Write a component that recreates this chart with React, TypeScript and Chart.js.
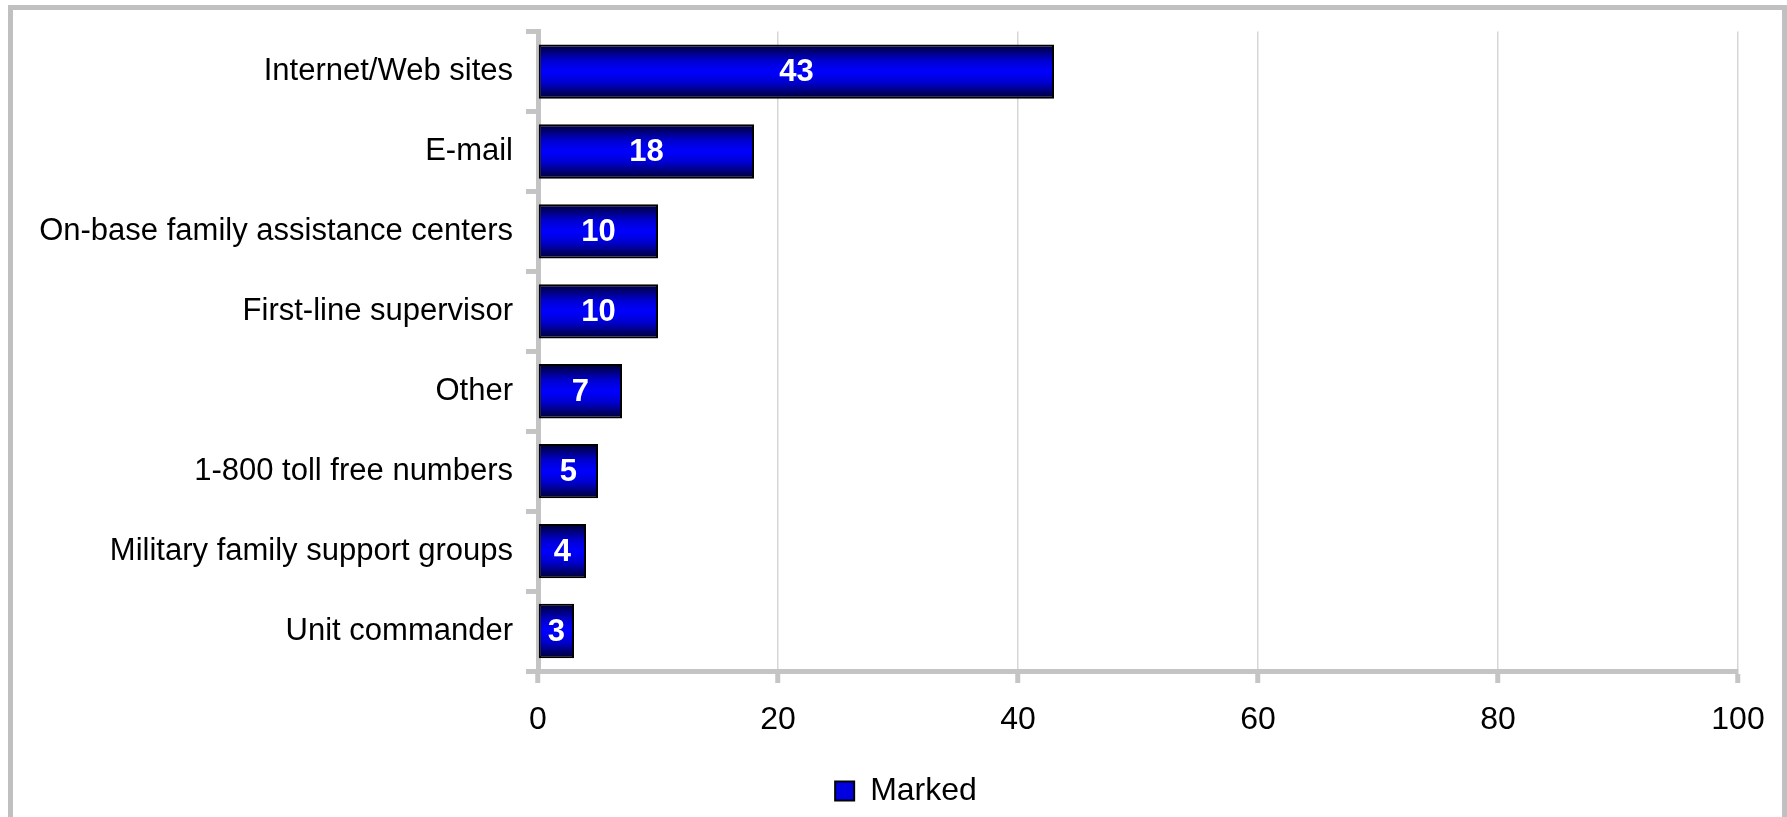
import React, { useEffect, useRef } from "react";
import { Chart, registerables } from "chart.js";

Chart.register(...registerables);

const categories = [
  "Internet/Web sites",
  "E-mail",
  "On-base family assistance centers",
  "First-line supervisor",
  "Other",
  "1-800 toll free numbers",
  "Military family support groups",
  "Unit commander",
];
const marked = [43, 18, 10, 10, 7, 5, 4, 3];
const xTicks = [0, 20, 40, 60, 80, 100];
const seriesName = "Marked";

const W = 1787;
const H = 817;
const FONT = "'Liberation Sans', Arial, sans-serif";
const CAT_PCT = 0.68;
const LEGEND_SHIFT = 37;

export default function App() {
  const ref = useRef<HTMLCanvasElement | null>(null);

  useEffect(() => {
    if (!ref.current) return;

    const labelPlugin = {
      id: "barLabels",
      afterDatasetsDraw(chart: any) {
        const { ctx } = chart;
        const meta = chart.getDatasetMeta(0);
        ctx.save();
        ctx.fillStyle = "#ffffff";
        ctx.font = `bold 31px ${FONT}`;
        ctx.textAlign = "center";
        ctx.textBaseline = "middle";
        meta.data.forEach((bar: any, i: number) => {
          const x = (bar.x + bar.base) / 2;
          ctx.fillText(String(chart.data.datasets[0].data[i]), x, bar.y + 1);
        });
        ctx.restore();
      },
    };

    const legendShift = {
      id: "legendShift",
      afterLayout(chart: any) {
        if (chart.legend) {
          chart.legend.left += LEGEND_SHIFT;
          chart.legend.right += LEGEND_SHIFT;
        }
      },
    };

    const gradientFill = (c: any) => {
      const chart = c.chart;
      const y = chart.scales && chart.scales.y;
      if (!y || !chart.chartArea || c.dataIndex === undefined) return "#0000ff";
      const cy = y.getPixelForValue(c.dataIndex);
      const half = (y.height / categories.length) * CAT_PCT / 2;
      const g = chart.ctx.createLinearGradient(0, cy - half, 0, cy + half);
      g.addColorStop(0, "#000030");
      g.addColorStop(0.3, "#0000d0");
      g.addColorStop(0.5, "#0000ff");
      g.addColorStop(0.7, "#0000d0");
      g.addColorStop(1, "#000030");
      return g;
    };

    const chart = new Chart(ref.current, {
      type: "bar",
      data: {
        labels: categories,
        datasets: [
          {
            label: seriesName,
            data: marked,
            backgroundColor: gradientFill,
            borderColor: "#000000",
            borderWidth: 2,
            borderSkipped: false,
            categoryPercentage: CAT_PCT,
            barPercentage: 1,
          },
        ],
      },
      options: {
        indexAxis: "y",
        responsive: false,
        animation: false,
        devicePixelRatio: 1,
        layout: { padding: { top: 23, right: 49, left: 0, bottom: 0 } },
        plugins: {
          tooltip: { enabled: false },
          legend: {
            position: "bottom",
            labels: {
              boxWidth: 19,
              boxHeight: 19,
              padding: 8,
              color: "#000000",
              font: { family: FONT, size: 32 },
              generateLabels: () => [
                {
                  text: seriesName,
                  fillStyle: "#0000e0",
                  strokeStyle: "#000000",
                  lineWidth: 2,
                  datasetIndex: 0,
                  hidden: false,
                } as any,
              ],
            },
          },
        },
        scales: {
          x: {
            min: 0,
            max: 100,
            afterBuildTicks: (s: any) => {
              s.ticks = xTicks.map((v) => ({ value: v }));
            },
            afterFit: (s: any) => {
              s.height = 96;
            },
            grid: {
              color: "#d6d6d6",
              lineWidth: 1.5,
              tickColor: "#c4c4c4",
              tickWidth: 5,
              tickLength: 12,
            },
            border: { color: "#c4c4c4", width: 5 },
            ticks: {
              color: "#000000",
              padding: 18,
              font: { family: FONT, size: 32 },
            },
          },
          y: {
            afterFit: (s: any) => {
              s.width = 538;
            },
            grid: {
              drawOnChartArea: false,
              tickColor: "#c4c4c4",
              tickWidth: 5,
              tickLength: 12,
            },
            border: { color: "#c4c4c4", width: 5 },
            ticks: {
              color: "#000000",
              padding: 13,
              font: { family: FONT, size: 31 },
            },
          },
        },
      },
      plugins: [labelPlugin, legendShift],
    } as any);

    return () => chart.destroy();
  }, []);

  return (
    <div style={{ position: "fixed", left: 0, top: 0, width: W, height: H, background: "#fff" }}>
      <div
        style={{
          position: "absolute",
          left: 8,
          top: 5,
          right: 0,
          height: H + 20,
          borderLeft: "5px solid #c0c0c0",
          borderTop: "5px solid #c0c0c0",
          borderRight: "5px solid #c0c0c0",
          boxSizing: "border-box",
        }}
      />
      <canvas
        ref={ref}
        width={W}
        height={H}
        style={{ position: "absolute", left: 0, top: 0, width: W, height: H }}
      />
    </div>
  );
}
